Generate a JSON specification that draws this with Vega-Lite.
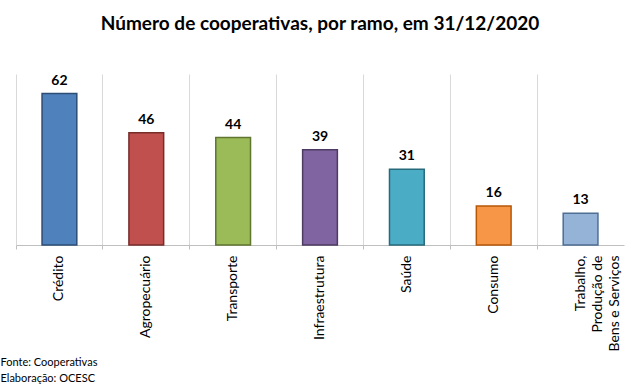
{
  "$schema": "https://vega.github.io/schema/vega-lite/v6.json",
  "autosize": "none",
  "width": 608,
  "height": 171,
  "padding": {"left": 16, "top": 74, "right": 17, "bottom": 146},
  "background": "white",
  "config": {"view": {"stroke": null}, "font": "Lato"},
  "title": {
    "text": "Número de cooperativas, por ramo, em 31/12/2020",
    "font": "Lato",
    "fontSize": 19,
    "fontWeight": "bold",
    "color": "#000000",
    "anchor": "middle",
    "offset": 40
  },
  "data": {
    "values": [
      {"ramo": "Crédito", "valor": 62},
      {"ramo": "Agropecuário", "valor": 46},
      {"ramo": "Transporte", "valor": 44},
      {"ramo": "Infraestrutura", "valor": 39},
      {"ramo": "Saúde", "valor": 31},
      {"ramo": "Consumo", "valor": 16},
      {"ramo": "Trabalho,|Produção de|Bens e Serviços", "valor": 13}
    ]
  },
  "encoding": {
    "x": {
      "field": "ramo",
      "type": "nominal",
      "sort": null,
      "scale": {"paddingInner": 0, "paddingOuter": 0},
      "axis": {
        "title": ["Fonte: Cooperativas", "Elaboração: OCESC"],
        "titleFont": "Lato",
        "titleFontSize": 11,
        "titleFontWeight": "normal",
        "titleColor": "#000000",
        "titleAnchor": "start",
        "titleAlign": "left",
        "titleBaseline": "alphabetic",
        "titleX": -16,
        "titleY": 120,
        "titleLineHeight": 16,
        "labelAngle": -90,
        "labelAlign": "right",
        "labelBaseline": "middle",
        "labelFont": "Lato",
        "labelFontSize": 14,
        "labelColor": "#000000",
        "labelPadding": 6,
        "labelLineHeight": 17,
        "labelExpr": "split(datum.label, '|')",
        "bandPosition": 0,
        "grid": true,
        "gridColor": "#d9d9d9",
        "gridWidth": 1,
        "ticks": true,
        "tickSize": 4,
        "tickColor": "#bfbfbf",
        "domainColor": "#bfbfbf",
        "domainWidth": 1
      }
    },
    "y": {
      "field": "valor",
      "type": "quantitative",
      "scale": {"domain": [0, 70], "nice": false},
      "axis": null
    }
  },
  "layer": [
    {
      "mark": {"type": "bar", "width": {"band": 0.4}, "strokeWidth": 1.5},
      "encoding": {
        "color": {
          "field": "ramo",
          "type": "nominal",
          "sort": null,
          "legend": null,
          "scale": {"range": ["#4f81bd", "#c0504d", "#9bbb59", "#8064a2", "#4bacc6", "#f79646", "#95b3d7"]}
        },
        "stroke": {
          "field": "ramo",
          "type": "nominal",
          "sort": null,
          "legend": null,
          "scale": {"range": ["#2c4d75", "#772c2a", "#5f7530", "#4d3b62", "#276a7c", "#b65708", "#4f6e94"]}
        }
      }
    },
    {
      "mark": {"type": "text", "baseline": "bottom", "dy": -6, "font": "Lato", "fontSize": 14, "fontWeight": "bold", "color": "#000000"},
      "encoding": {"text": {"field": "valor", "type": "quantitative"}}
    }
  ]
}
